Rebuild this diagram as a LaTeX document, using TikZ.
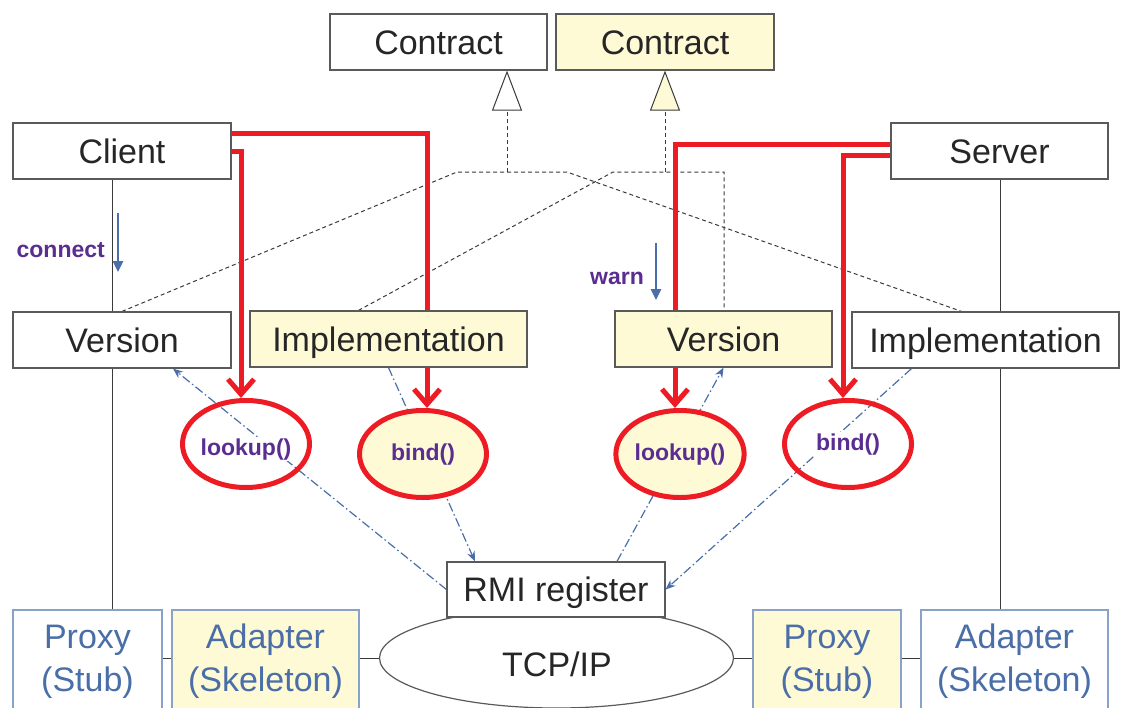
\documentclass[tikz,border=0pt]{standalone}
\usepackage{fontspec}
\setmainfont{Liberation Sans}
\usetikzlibrary{arrows.meta,shapes.geometric,backgrounds,calc}
\definecolor{yel}{HTML}{FFFAD6}
\definecolor{redc}{HTML}{ED1C24}
\definecolor{bluec}{HTML}{4A6EA8}
\definecolor{purp}{HTML}{5A2D91}
\definecolor{boxc}{HTML}{5A5A5A}
\definecolor{txtc}{HTML}{262626}
\definecolor{pbord}{HTML}{8AA2C8}
\definecolor{dshc}{HTML}{3A3A3A}
\begin{document}
\begin{tikzpicture}[x=1pt,y=-1pt,
 box/.style={draw=boxc, line width=1.2pt, fill=white, minimum height=56pt, inner sep=0pt, text=txtc, text height=24.5pt, text depth=0pt, font=\fontsize{34}{40}\selectfont},
 ybox/.style={box, fill=yel},
 pbox/.style={draw=pbord, line width=1.2pt, fill=white, minimum height=103pt, inner sep=0pt, text=bluec, align=center, font=\fontsize{34}{43}\selectfont},
 ypbox/.style={pbox, fill=yel},
 call/.style={ellipse, draw=redc, line width=5pt, inner sep=0pt, minimum width=127pt, minimum height=87pt, text=purp, text height=12pt, text depth=0pt, font=\bfseries\fontsize{23}{27}\selectfont},
 calltxt/.style={fill=white, inner sep=2pt, text=purp, text height=16.5pt, text depth=4pt, font=\bfseries\fontsize{23}{27}\selectfont},
 redline/.style={draw=redc, line width=5pt, -{Straight Barb[length=15pt,width=26pt]}},
 dd/.style={draw=bluec, line width=1.2pt, dash pattern=on 9pt off 3pt on 1.5pt off 3pt, -{Stealth[length=10pt,width=8pt]}},
 dsh/.style={draw=dshc, line width=1pt, dash pattern=on 4pt off 3pt},
 life/.style={draw=dshc, line width=1pt},
 bluearr/.style={draw=bluec, line width=2.5pt, -{Triangle[length=11pt,width=10pt]}},
 purptxt/.style={text=purp, font=\bfseries\fontsize{23}{27}\selectfont, inner sep=0pt}
]
\useasboundingbox (0,0) rectangle (1121,707);

% boxes
\node[box, minimum width=217pt] (contractA) at (438.5,42) {Contract};
\node[ybox, minimum width=218pt] (contractB) at (665,42) {Contract};
\node[box, minimum width=218pt] (client) at (122,151) {Client};
\node[box, minimum width=217pt] (server) at (999.5,151) {Server};
\node[box, minimum width=218pt] (versionC) at (122,340) {Version};
\node[ybox, minimum width=277pt] (implC) at (388.5,339) {Implementation};
\node[ybox, minimum width=217pt] (versionS) at (723.5,339) {Version};
\node[box, minimum width=267pt] (implS) at (985.5,340) {Implementation};

% calls
\node[call, label={[calltxt, yshift=-5pt]center:lookup()}] (lookupC) at (246,444) {};
\node[call, fill=yel] (bindC) at (423,454) {bind()};
\node[call, fill=yel] (lookupS) at (680,454) {lookup()};
\node[call, label={[calltxt]center:bind()}] (bindS) at (848,444) {};

% network
\node[ellipse, draw=boxc, line width=1.2pt, fill=white, minimum width=354pt, minimum height=100pt, inner sep=0pt] (tcp) at (556.5,658) {};
\node[text=txtc, font=\fontsize{34}{40}\selectfont, inner sep=0pt] (tcptxt) at (557,664) {TCP/IP};
\node[box, minimum width=218pt, minimum height=55pt] (rmi) at (556,589.5) {RMI register};

\node[pbox, minimum width=149pt] (proxyC) at (87.5,661.5) {Proxy\\(Stub)};
\node[ypbox, minimum width=187pt] (adapterC) at (265.5,661.5) {Adapter\\(Skeleton)};
\node[ypbox, minimum width=148pt] (proxyS) at (827,661.5) {Proxy\\(Stub)};
\node[pbox, minimum width=187pt] (adapterS) at (1014.5,661.5) {Adapter\\(Skeleton)};

\coordinate (hl) at (0,658);
\draw[life] (proxyC.east |- hl) -- (adapterC.west |- hl);
\draw[life] (adapterC.east |- hl) -- (tcp.west);
\draw[life] (tcp.east) -- (proxyS.west |- hl);
\draw[life] (proxyS.east |- hl) -- (adapterS.west |- hl);

% lifelines
\coordinate (lc) at (112,0);
\coordinate (ls) at (1000,0);
\draw[life] (client.south -| lc) -- (versionC.north -| lc);
\draw[life] (versionC.south -| lc) -- (proxyC.north -| lc);
\draw[life] (server.south -| ls) -- (implS.north -| ls);
\draw[life] (implS.south -| ls) -- (adapterS.north -| ls);

% connect / warn
\coordinate (ca1) at (118,213);
\coordinate (ca2) at (118,272);
\draw[bluearr] (ca1) -- (ca2);
\node[purptxt, anchor=east] (conn) at (105,250) {connect};
\coordinate (wa1) at (656,243);
\coordinate (wa2) at (656,300);
\draw[bluearr] (wa1) -- (wa2);
\node[purptxt, anchor=east] (warn) at (644,278) {warn};

\begin{pgfonlayer}{background}
% dash-dot registry lines
\draw[dd] (rmi.west) -- ([xshift=51pt]versionC.south);
\draw[dd] (implC.south) -- ([xshift=-81pt]rmi.north);
\draw[dd] ([xshift=61pt]rmi.north) -- (versionS.south);
\draw[dd] ([xshift=-74pt]implS.south) -- (rmi.east);
% dashed realisation lines
\coordinate (jA) at (507,172);
\coordinate (jAl) at (457,172);
\coordinate (jAr) at (567,172);
\coordinate (jB) at (665,172);
\coordinate (jBl) at (613,172);
\coordinate (jBr) at (724,172);
\draw[dsh] (versionC.north) -- (jAl) -- (jAr) -- ([xshift=-24pt]implS.north);
\draw[dsh] ([xshift=-30pt]implC.north) -- (jBl) -- (jBr) -- (jBr |- versionS.north);
\draw[dsh, -{Triangle[length=40pt,width=30pt,fill=white]}] (jA) -- (jA |- contractA.south);
\draw[dsh, -{Triangle[length=40pt,width=30pt,fill=yel]}] (jB) -- (jB |- contractB.south);
% red call lines
\draw[redline] ([yshift=18pt]client.east) -| ([xshift=4pt]bindC.north);
\draw[redline] (client.east) -| ([xshift=-5pt]lookupC.north);
\draw[redline] ([yshift=7pt]server.west) -| ([xshift=-5pt]lookupS.north);
\draw[redline] ([yshift=-4pt]server.west) -| ([xshift=-5pt]bindS.north);
\end{pgfonlayer}
\end{tikzpicture}
\end{document}
